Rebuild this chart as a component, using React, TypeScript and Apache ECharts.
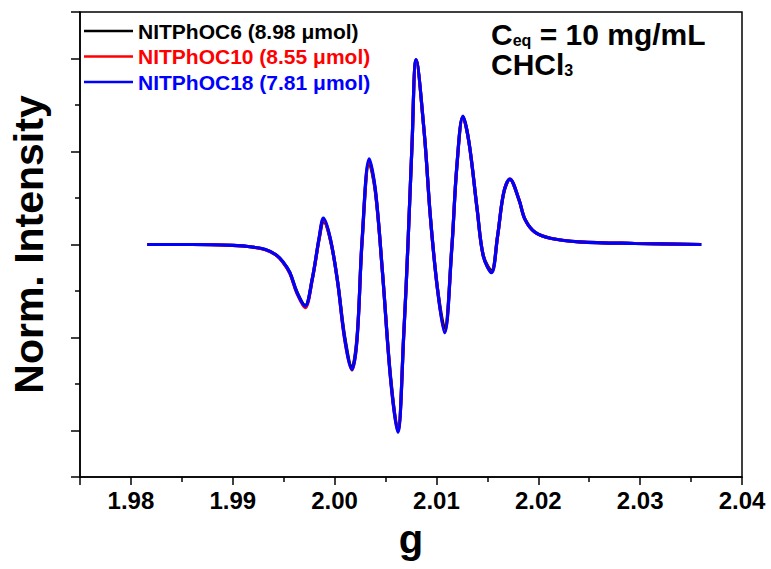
import React, { useEffect, useRef } from "react";
import * as echarts from "echarts";

const seriesNames = [
  "NITPhOC6 (8.98 μmol)",
  "NITPhOC10 (8.55 μmol)",
  "NITPhOC18 (7.81 μmol)",
];
const seriesColors = ["#000000", "#ff0000", "#0000ff"];

const gValues = [
  1.9816, 1.986, 1.99, 1.9919, 1.9932, 1.9942, 1.9949, 1.9956, 1.9963, 1.9971,
  1.9978, 1.9985, 1.9989, 1.9996, 2.0003, 2.001, 2.0017, 2.0022, 2.0027, 2.0034,
  2.004, 2.0047, 2.0055, 2.0062, 2.0068, 2.0072, 2.0076, 2.008, 2.0088, 2.0094,
  2.0101, 2.0108, 2.0115, 2.012, 2.0126, 2.0132, 2.014, 2.0146, 2.0154, 2.016,
  2.0166, 2.0172, 2.0181, 2.0187, 2.0197, 2.0213, 2.024, 2.0295, 2.036,
];

const blackY = [
  0, 0, -0.01, -0.027, -0.054, -0.108, -0.183, -0.301, -0.51, -0.655,
  -0.37, 0.07, 0.25, 0.04, -0.4, -1.0, -1.32, -1.0, 0.03, 0.88,
  0.57, -0.3, -1.43, -1.99, -0.94, 0, 1.07, 1.98, 1.2, 0.3,
  -0.47, -0.9, -0.04, 0.83, 1.37, 1.09, 0.37, -0.12, -0.28, 0.09,
  0.55, 0.7, 0.48, 0.27, 0.13, 0.065, 0.029, 0.011, 0,
];

const redY = [
  0, 0, -0.01, -0.027, -0.056, -0.11, -0.188, -0.31, -0.525, -0.68,
  -0.38, 0.08, 0.27, 0.05, -0.41, -1.03, -1.35, -1.02, 0.05, 0.9,
  0.58, -0.3, -1.45, -2.01, -0.945, 0, 1.075, 1.985, 1.2, 0.3,
  -0.48, -0.94, -0.05, 0.84, 1.375, 1.095, 0.375, -0.125, -0.3, 0.089,
  0.559, 0.704, 0.484, 0.269, 0.129, 0.065, 0.029, 0.011, 0,
];

const blueY = [
  0, 0, -0.01, -0.027, -0.054, -0.108, -0.183, -0.301, -0.516, -0.663,
  -0.376, 0.089, 0.285, 0.054, -0.409, -1.022, -1.344, -1.022, 0.054, 0.922,
  0.591, -0.301, -1.452, -2.018, -0.946, 0, 1.075, 1.989, 1.204, 0.304,
  -0.484, -0.949, -0.054, 0.842, 1.38, 1.097, 0.376, -0.126, -0.304, 0.089,
  0.559, 0.704, 0.484, 0.269, 0.129, 0.065, 0.029, 0.011, 0,
];

const allY = [blackY, redY, blueY];

const xMin = 1.975;
const xMax = 2.04;
const yMin = -2.5;
const yMax = 2.5;

const FONT = "'Liberation Sans', Arial, Helvetica, sans-serif";

export default function App() {
  const ref = useRef<HTMLDivElement>(null);

  useEffect(() => {
    if (!ref.current) return;
    const chart = echarts.init(ref.current, null, { renderer: "svg" });
    const series = seriesNames.map((name, si) => ({
      name,
      type: "line",
      data: gValues.map((g, i) => [g, allY[si][i]]),
      symbol: "none",
      smooth: 0.35,
      lineStyle: { color: seriesColors[si], width: 3.2 },
      itemStyle: { color: seriesColors[si] },
      z: 2 + si,
    }));

    const richText = {
      b: { fontFamily: FONT, fontSize: 30, fontWeight: "bold", lineHeight: 28, fill: "#000" },
      s: {
        fontFamily: FONT,
        fontSize: 16,
        fontWeight: "bold",
        lineHeight: 22,
        verticalAlign: "bottom",
        fill: "#000",
      },
    };

    chart.setOption({
      animation: false,
      backgroundColor: "#ffffff",
      grid: {
        left: 76,
        right: 29,
        top: 12,
        bottom: 92,
        show: true,
        borderColor: "#000",
        borderWidth: 1.5,
      },
      legend: {
        orient: "vertical",
        left: 79,
        top: 15,
        icon: "rect",
        itemWidth: 49,
        itemHeight: 2.5,
        itemGap: 3.5,
        selectedMode: false,
        textStyle: {
          fontFamily: FONT,
          fontSize: 21,
          fontWeight: "bold",
          lineHeight: 22,
        },
        data: seriesNames.map((n, i) => ({
          name: n,
          itemStyle: { color: seriesColors[i] },
          textStyle: { color: seriesColors[i] },
        })),
      },
      xAxis: {
        type: "value",
        min: xMin,
        max: xMax,
        splitNumber: 6,
        name: "g",
        nameLocation: "middle",
        nameGap: 42,
        nameTextStyle: {
          fontFamily: FONT,
          fontSize: 40,
          fontWeight: "bold",
          color: "#000",
        },
        axisLine: { show: true, onZero: false, lineStyle: { color: "#000", width: 1.5 } },
        axisTick: { show: true, inside: false, length: 8, lineStyle: { color: "#000", width: 1.5 } },
        minorTick: { show: true, splitNumber: 2, length: 5, lineStyle: { color: "#000", width: 1.5 } },
        splitLine: { show: false },
        minorSplitLine: { show: false },
        axisLabel: {
          fontFamily: FONT,
          fontSize: 24,
          fontWeight: "bold",
          color: "#000",
          margin: 11,
          formatter: (v: number) =>
            Math.abs(v * 100 - Math.round(v * 100)) < 1e-6 ? v.toFixed(2) : "",
        },
      },
      yAxis: {
        type: "value",
        min: yMin,
        max: yMax,
        splitNumber: 5,
        name: "Norm. Intensity",
        nameLocation: "middle",
        nameGap: 31,
        nameTextStyle: {
          fontFamily: FONT,
          fontSize: 41,
          fontWeight: "bold",
          color: "#000",
        },
        axisLine: { show: true, onZero: false, lineStyle: { color: "#000", width: 1.5 } },
        axisTick: { show: true, inside: false, length: 9, lineStyle: { color: "#000", width: 1.5 } },
        minorTick: { show: true, splitNumber: 2, length: 5, lineStyle: { color: "#000", width: 1.5 } },
        splitLine: { show: false },
        minorSplitLine: { show: false },
        axisLabel: { show: false },
      },
      graphic: [
        {
          type: "text",
          left: 491,
          top: 19,
          style: { text: "{b|C}{s|eq}{b| = 10 mg/mL}", fill: "#000", rich: richText },
        },
        {
          type: "text",
          left: 491,
          top: 49,
          style: { text: "{b|CHCl}{s|3}", fill: "#000", rich: richText },
        },
      ],
      series,
    });

    return () => chart.dispose();
  }, []);

  return (
    <div
      ref={ref}
      style={{ position: "absolute", left: 0, top: 0, width: 771, height: 569 }}
    />
  );
}
